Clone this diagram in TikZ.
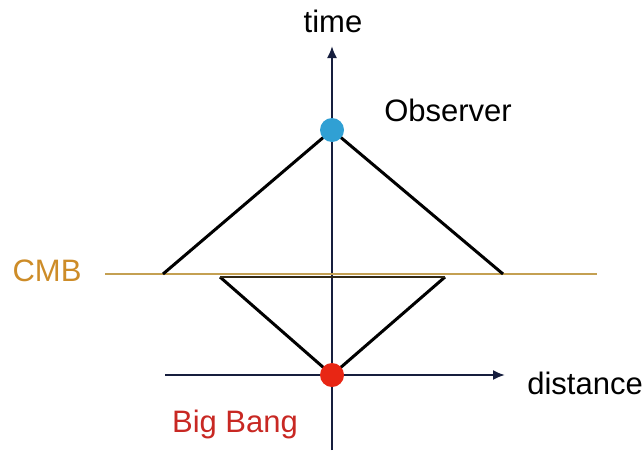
\documentclass[tikz,border=0pt]{standalone}
\usepackage{fontspec}
\setmainfont{Liberation Sans}
\usetikzlibrary{arrows.meta}
\definecolor{cmbgold}{RGB}{196,160,82}
\definecolor{cmbtext}{RGB}{205,140,40}
\definecolor{bangred}{RGB}{200,40,35}
\definecolor{dotred}{RGB}{232,38,20}
\definecolor{dotblue}{RGB}{48,160,212}
\definecolor{axisblue}{RGB}{22,30,62}
\tikzset{
  axis/.style={draw=axisblue, line width=2pt, -{Latex[length=12pt,width=10pt]}},
  cone/.style={draw=black, line width=3pt},
  event/.style={circle, inner sep=0pt, minimum size=24pt},
  lbl/.style={font=\fontsize{31}{34}\selectfont}
}
\begin{document}
\begin{tikzpicture}[x=1pt,y=-1pt]
  \useasboundingbox (0,0) rectangle (644,450);
  % axes
  \coordinate (tbot) at (332,450); \coordinate (ttop) at (332,46);
  \coordinate (dleft) at (165,375); \coordinate (dright) at (505,375);
  \draw[axis] (tbot) -- (ttop);
  \draw[axis] (dleft) -- (dright);
  % last scattering surface
  \coordinate (cmbl) at (105,274); \coordinate (cmbr) at (597,274);
  \draw[cmbgold, line width=2.6pt] (cmbl) -- (cmbr);
  % light cones
  \node[event] (obs) at (332,130) {};
  \node[event] (bang) at (332,375) {};
  \coordinate (pl) at (163,274); \coordinate (pr) at (503,274);
  \coordinate (fl) at (220,277); \coordinate (fr) at (445,277);
  \draw[cone] (pl) -- (obs.center) -- (pr);
  \draw[cone] (fl) -- (bang.center) -- (fr);
  \draw[draw=black!75!cmbgold, line width=2.6pt] (fl) -- (fr);
  \fill[dotblue] (obs) circle (12pt);
  \fill[dotred] (bang) circle (12pt);
  % labels
  \node[lbl] (time) at (333,21) {time};
  \node[lbl] (observer) at (448,110) {Observer};
  \node[lbl, text=cmbtext] (cmb) at (47,271) {CMB};
  \node[lbl, anchor=east, inner xsep=1pt] (distance) at (644,383) {distance};
  \node[lbl, text=bangred] (bigbang) at (235,424) {Big Bang};
\end{tikzpicture}
\end{document}
